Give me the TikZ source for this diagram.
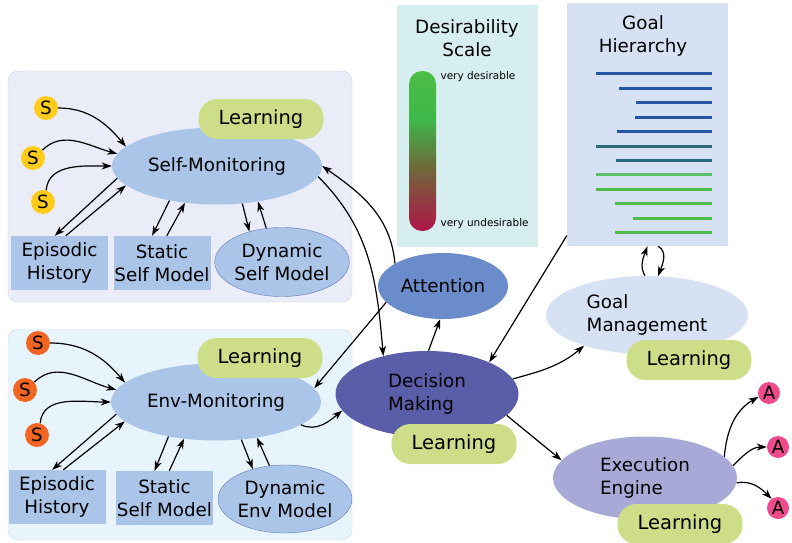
\documentclass[tikz,border=0pt]{standalone}
\usepackage{fontspec}
\setmainfont{DejaVu Sans}
\usetikzlibrary{shapes.geometric,arrows.meta}
\definecolor{panelself}{HTML}{EAECF7}
\definecolor{panelselfline}{HTML}{CDD1E6}
\definecolor{panelenv}{HTML}{E8F4FC}
\definecolor{panelenvline}{HTML}{CCDDEA}
\definecolor{partblue}{HTML}{AAC5E8}
\definecolor{partline}{HTML}{6677BB}
\definecolor{learngreen}{HTML}{CEDD88}
\definecolor{sensyellow}{HTML}{FFCC1A}
\definecolor{sensorange}{HTML}{F26522}
\definecolor{desirebg}{HTML}{D7EEF0}
\definecolor{goalbg}{HTML}{D6E2F4}
\definecolor{attblue}{HTML}{6A8CCB}
\definecolor{decblue}{HTML}{5A5EA8}
\definecolor{execlav}{HTML}{A9A9D8}
\definecolor{actpink}{HTML}{EE4A8C}
\definecolor{glblue}{HTML}{2355A3}
\definecolor{glteal}{HTML}{2A6B7A}
\definecolor{gllight}{HTML}{5CBF6A}
\definecolor{glgreen}{HTML}{4DBB4D}
\definecolor{desgood}{HTML}{4DBD45}
\definecolor{desgreen}{HTML}{3DB84A}
\definecolor{desmid}{HTML}{6E6A3A}
\definecolor{desbad}{HTML}{B0154A}
\pgfdeclareverticalshading{desirability}{100bp}{color(0bp)=(desbad); color(25bp)=(desbad);
  color(45bp)=(desmid); color(60bp)=(desgreen); color(75bp)=(desgood); color(100bp)=(desgood)}
\begin{document}
\begin{tikzpicture}[x=1pt,y=-1pt,
  >={Stealth[length=10pt,width=7pt,inset=3pt]},
  every node/.style={font=\fontsize{18.3}{23}\selectfont},
  part/.style={ellipse,inner sep=0pt,align=center},
  store/.style={rectangle,fill=partblue,inner sep=0pt,align=center,minimum width=97pt,minimum height=54pt},
  learning/.style={rectangle,rounded corners=19pt,fill=learngreen,minimum width=125pt,minimum height=40pt,
    inner sep=0pt,font=\fontsize{19.5}{23}\selectfont},
  sensor/.style={circle,minimum size=24pt,inner sep=0pt},
  act/.style={circle,fill=actpink,minimum size=22pt,inner sep=0pt},
  link/.style={->,line width=1.2pt}]

\useasboundingbox (0,0) rectangle (792,543);

% panels
\draw[rounded corners=10pt,fill=panelself,draw=panelselfline] (8,71) rectangle (352,302);
\draw[rounded corners=10pt,fill=panelenv,draw=panelenvline] (8,329) rectangle (352,540);
\node[fill=desirebg,minimum width=141pt,minimum height=242pt,inner sep=0pt] (ds) at (467.5,126) {};
\node[fill=goalbg,minimum width=161pt,minimum height=243pt,inner sep=0pt] (gh) at (647.5,124.5) {};
\node[align=center] (dstitle) at (467,38) {Desirability\\Scale};
\node[align=center] (ghtitle) at (643,36) {Goal\\Hierarchy};

% desirability scale
\shade[shading=desirability,rounded corners=13pt] (409,71) rectangle (436,231);
\node[anchor=west,font=\fontsize{10.5}{12}\selectfont] (vd) at (437,77) {very desirable};
\node[anchor=west,font=\fontsize{10.5}{12}\selectfont] (vu) at (437,224) {very undesirable};

% goal hierarchy
\foreach \y/\l/\c in {73/596/glblue, 88/619/glblue, 102/636/glblue, 117/635/glblue, 131/617/glblue,
  146/596/glteal, 160/616/glteal, 174/596/gllight, 189/596/glgreen, 203/615/glgreen,
  218/633/glgreen, 232/615/glgreen}
  \draw[\c,line width=3pt] (\l,\y) -- (712,\y);

% self panel
\node[part,fill=partblue,minimum width=210pt,minimum height=77pt] (sm) at (217,166) {Self-Monitoring};
\node[sensor,fill=sensyellow] (s1) at (46,108) {S};
\node[sensor,fill=sensyellow] (s2) at (33,158) {S};
\node[sensor,fill=sensyellow] (s3) at (43,202) {S};
\node[store] (eh) at (59.5,263) {Episodic\\History};
\node[store] (ssm) at (162,263) {Static\\Self Model};
\node[part,fill=partblue,draw=partline,minimum width=133pt,minimum height=69pt] (dsm) at (282,262) {Dynamic\\Self Model};
\node[learning] (lsm) at (261,119) {Learning};

\draw[link] (s1.east) to[out=0,in=130] (sm.168);
\draw[link] (s2.40) to[out=45,in=165] (sm.173);
\draw[link] (s3.75) to[out=85,in=180] (sm.180);
\draw[link] (sm.187) -- (eh.100);
\draw[link] (eh.77) -- (sm.192);
\draw[link] (sm.216) -- (ssm.110);
\draw[link] (ssm.80) -- (sm.229);
\draw[link] (sm.304) -- (dsm.137);
\draw[link] (dsm.115) -- (sm.319);

% env panel
\node[part,fill=partblue,minimum width=210pt,minimum height=77pt] (em) at (216,402) {Env-Monitoring};
\node[sensor,fill=sensorange] (e1) at (38,343) {S};
\node[sensor,fill=sensorange] (e2) at (25,390) {S};
\node[sensor,fill=sensorange] (e3) at (37,435) {S};
\node[store] (eeh) at (57,497) {Episodic\\History};
\node[store] (essm) at (164.5,498) {Static\\Self Model};
\node[part,fill=partblue,draw=partline,minimum width=134pt,minimum height=68pt] (den) at (285,499) {Dynamic\\Env Model};
\node[learning] (lem) at (260,358) {Learning};

\draw[link] (e1.east) to[out=0,in=130] (em.168);
\draw[link] (e2.40) to[out=45,in=165] (em.173);
\draw[link] (e3.75) to[out=85,in=180] (em.180);
\draw[link] (em.187) -- (eeh.100);
\draw[link] (eeh.77) -- (em.192);
\draw[link] (em.216) -- (essm.110);
\draw[link] (essm.80) -- (em.229);
\draw[link] (em.304) -- (den.137);
\draw[link] (den.115) -- (em.319);

% decision, attention, goals, execution
\node[part,fill=attblue,minimum width=130pt,minimum height=66pt] (att) at (443,286) {Attention};
\node[part,fill=decblue,minimum width=183pt,minimum height=86pt,align=left] (dm) at (427,394) {Decision\\Making};
\node[part,fill=goalbg,minimum width=202pt,minimum height=78pt,align=left] (gm) at (647,315) {Goal\\Management};
\node[part,fill=execlav,minimum width=184pt,minimum height=83pt,align=left] (ee) at (645,478) {Execution\\Engine};
\node[learning] (ldm) at (454,444) {Learning};
\node[learning] (lgm) at (689,360) {Learning};
\node[learning] (lee) at (680,524) {Learning};
\node[act] (a1) at (769,393) {A};
\node[act] (a2) at (778,447) {A};
\node[act] (a3) at (778,508) {A};

\draw[link] (att.155) to[out=95,in=-35] (sm.east);
\draw[link] (sm.-6) to[out=-45,in=95] (dm.139);
\draw[link] (dm.88) -- (att.265);
\draw[link] (att.196) -- (em.8);
\draw[link] (em.-15) to[out=-25,in=-140] (dm.191);
\draw[link] (gh.234) -- (dm.27);
\draw[link] (dm.10) to[out=15,in=-140] (gm.206);
\draw[link] (dm.-15) -- (ee.168);
\draw[link] (gm.93) to[out=120,in=-110] (gh.south);
\draw[link] (gh.-85) to[out=-30,in=70] (gm.74);
\draw[link] (ee.15) to[out=85,in=-150] (a1.200);
\draw[link] (ee.8) to[out=45,in=180] (a2.west);
\draw[link] (ee.-3) to[out=10,in=135] (a3.125);

\end{tikzpicture}
\end{document}
